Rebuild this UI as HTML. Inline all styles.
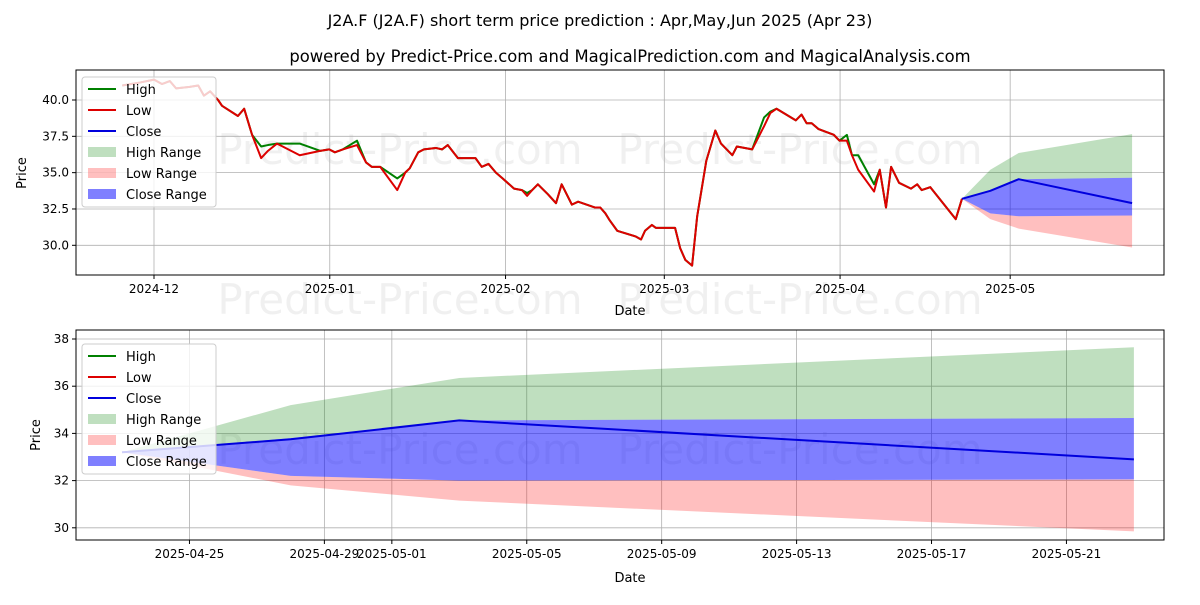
<!DOCTYPE html>
<html><head><meta charset="utf-8"><style>
body{margin:0;background:#fff;font-family:"Liberation Sans","DejaVu Sans",sans-serif}
svg text{font-family:"DejaVu Sans","Liberation Sans",sans-serif}
</style></head><body>
<svg id="c" width="1200" height="600" xmlns="http://www.w3.org/2000/svg"></svg>
<script>
// historical days (offset from 2024-12-01) and low values
const histDays=[-5.6,-2.5,0,1.4,2.8,3.9,6.3,7.8,8.8,9.9,11.3,12,14.8,15.9,17.3,18.9,20.1,21.7,25.7,29.3,30.9,31.9,33.3,35.8,37.4,38.4,39.9,42.9,44.3,45.1,46.6,47.6,49.7,50.8,51.8,53.6,56.7,57.8,59,60.3,61.5,63.5,64.9,65.8,66.7,67.7,69.5,70.9,71.9,73.7,74.8,77.8,78.7,79.6,80.4,81.7,85,85.9,86.6,87.8,88.5,91.9,92.8,93.7,94.9,95.8,97.4,99,100,102,102.8,105.5,107.6,108.7,109.8,113.2,114.2,115.1,116,117.2,119.9,120.9,122.2,123.1,124.2,127,128,129.1,130,131.4,133.5,134.6,135.4,136.9,141.4,142.5,142.5];
const lowVals=[41.0,41.2,41.4,41.1,41.3,40.8,40.9,41.0,40.3,40.6,40.0,39.6,38.9,39.4,37.6,36.0,36.5,37.0,36.2,36.5,36.6,36.4,36.6,36.9,35.7,35.4,35.4,33.8,35.0,35.3,36.4,36.6,36.7,36.6,36.9,36.0,36.0,35.4,35.6,35.0,34.6,33.9,33.8,33.4,33.8,34.2,33.5,32.9,34.2,32.8,33.0,32.6,32.6,32.2,31.7,31.0,30.6,30.4,31.0,31.4,31.2,31.2,29.8,29.0,28.6,32.0,35.8,37.9,37.0,36.2,36.8,36.6,38.2,39.1,39.4,38.6,39.0,38.4,38.4,38.0,37.6,37.2,37.2,36.2,35.2,33.7,35.2,32.6,35.4,34.3,33.9,34.2,33.8,34.0,31.8,33.2,33.2];
const highVals=[41.0,41.2,41.4,41.1,41.3,40.8,40.9,41.0,40.3,40.6,40.0,39.6,38.9,39.4,37.6,36.8,36.9,37.0,37.0,36.5,36.6,36.4,36.6,37.2,35.7,35.4,35.4,34.6,35.0,35.3,36.4,36.6,36.7,36.6,36.9,36.0,36.0,35.4,35.6,35.0,34.6,33.9,33.8,33.6,33.8,34.2,33.5,32.9,34.2,32.8,33.0,32.6,32.6,32.2,31.7,31.0,30.6,30.4,31.0,31.4,31.2,31.2,29.8,29.0,28.6,32.0,35.8,37.9,37.0,36.2,36.8,36.6,38.8,39.2,39.4,38.6,39.0,38.4,38.4,38.0,37.6,37.2,37.6,36.2,36.2,34.2,35.2,32.6,35.4,34.3,33.9,34.2,33.8,34.0,31.8,33.2,33.2];
// forecast (days offset from 2025-04-23)
const fcDays=[0,5,10,30];
const fcClose=[33.2,33.75,34.55,32.9];
const fcHighTop=[33.2,35.2,36.35,37.65];
const fcCloseTop=[33.2,33.8,34.55,34.65];
const fcCloseBot=[33.2,32.2,32.0,32.05];
const fcLowBot=[33.2,31.8,31.15,29.85];
const topYTicks=[30.0,32.5,35.0,37.5,40.0];
const topXLabels=["2024-12","2025-01","2025-02","2025-03","2025-04","2025-05"];
const topXDays=[0,31,62,90,121,151];
const botYTicks=[30,32,34,36,38];
const botXLabels=["2025-04-25","2025-04-29","2025-05-01","2025-05-05","2025-05-09","2025-05-13","2025-05-17","2025-05-21"];
const botXDays=[2,6,8,12,16,20,24,28];

const svg=document.getElementById('c');const NS="http://www.w3.org/2000/svg";
function mk(t,a,p){const e=document.createElementNS(NS,t);for(const k in a)e.setAttribute(k,a[k]);(p||svg).appendChild(e);return e;}
function txt(s,x,y,size,anchor,name,rot){const e=mk('text',{x:x,y:y,'font-size':size,'text-anchor':anchor||'middle',fill:'#000'});if(rot)e.setAttribute('transform','rotate(-90 '+x+' '+y+')');e.textContent=s;

return e;}
function wm(x,y,p){const w=mk('text',{x:x,y:y,'font-size':42,'text-anchor':'middle',fill:'#000','fill-opacity':0.06},p);w.textContent='Predict-Price.com';
 
 }
const FC0=142.5; // 2025-04-23 in top-chart day units
function panel(P){
 const g=mk('g',{});
 
 
 P.wy.forEach(y=>{wm(400,y,g);wm(800,y,g);});
 P.yt.forEach(v=>{const y=P.Y(v);mk('line',{x1:P.x0,x2:P.x1,y1:y,y2:y,stroke:'#b0b0b0','stroke-width':0.8},g);mk('line',{x1:P.x0-4,x2:P.x0,y1:y,y2:y,stroke:'#000'},g);txt(P.yf(v),P.x0-7,y+4,12,'end','y-tick-label');});
 P.xd.forEach((d,i)=>{const x=P.X(d);mk('line',{x1:x,x2:x,y1:P.y0,y2:P.y1,stroke:'#b0b0b0','stroke-width':0.8},g);mk('line',{x1:x,x2:x,y1:P.y1,y2:P.y1+4,stroke:'#000'},g);txt(P.xl[i],x,P.y1+18,12,'middle','x-tick-label');});
 const poly=(top,bot,col,op,name)=>{let pts=fcDays.map((d,i)=>P.X(P.fd(d))+','+P.Y(top[i]));for(let i=fcDays.length-1;i>=0;i--)pts.push(P.X(P.fd(fcDays[i]))+','+P.Y(bot[i]));const e=mk('polygon',{points:pts.join(' '),fill:col,'fill-opacity':op},g);};
 poly(fcHighTop,fcCloseTop,'#008000',0.25,'high-range');
 poly(fcCloseBot,fcLowBot,'#ff0000',0.25,'low-range');
 poly(fcCloseTop,fcCloseBot,'#0000ff',0.5,'close-range');
 const line=(ds,vs,col,name)=>{const e=mk('polyline',{points:ds.map((d,i)=>P.X(d)+','+P.Y(vs[i])).join(' '),fill:'none',stroke:col,'stroke-width':2,'stroke-linejoin':'round'},g);};
 if(P.hist){line(histDays,highVals,'#008000','high-line');line(histDays,lowVals,'#dd0000','low-line');}
 line(fcDays.map(P.fd),fcClose,'#0000dd','close-line');
 mk('rect',{x:P.x0,y:P.y0,width:P.x1-P.x0,height:P.y1-P.y0,fill:'none',stroke:'#000','stroke-width':1},g);
 const lg=mk('g',{},g);
 const lx=P.x0+6,ly=P.y0+P.lo;
 mk('rect',{x:lx,y:ly,width:134,height:130,fill:'#fff','fill-opacity':0.8,stroke:'#ccc',rx:3},lg);
 const items=[['High','#008000','l'],['Low','#dd0000','l'],['Close','#0000dd','l'],['High Range','rgba(0,128,0,0.25)','r'],['Low Range','rgba(255,0,0,0.25)','r'],['Close Range','rgba(0,0,255,0.5)','r']];
 items.forEach((it,i)=>{const y=ly+12+i*21;if(it[2]=='l')mk('line',{x1:lx+6,x2:lx+34,y1:y,y2:y,stroke:it[1],'stroke-width':2},lg);else mk('rect',{x:lx+6,y:y-5,width:28,height:10,fill:it[1]},lg);const t=txt(it[0],lx+44,y+5,13,'start','legend-entry');lg.appendChild(t);});
}
panel({name:'top-panel',x0:76,x1:1164,y0:70,y1:275,X:d=>154+d*5.67,Y:v=>100+(40-v)*14.53,yt:topYTicks,yf:v=>v.toFixed(1),xd:topXDays,xl:topXLabels,fd:d=>FC0+d,hist:true,wy:[164,314],lo:7});
panel({name:'bottom-panel',x0:76,x1:1164,y0:330,y1:540,X:d=>122+d*33.73,Y:v=>339+(38-v)*23.6,yt:botYTicks,yf:v=>String(v),xd:botXDays,xl:botXLabels,fd:d=>d,hist:false,wy:[464],lo:14});
txt('J2A.F (J2A.F) short term price prediction : Apr,May,Jun 2025 (Apr 23)',600,26,16,'middle','chart-title');
txt('powered by Predict-Price.com and MagicalPrediction.com and MagicalAnalysis.com',630,62,16.4,'middle','chart-subtitle');
txt('Date',630,315,13,'middle','x-axis-title');
txt('Date',630,582,13,'middle','x-axis-title');
txt('Price',26,173,13,'middle','y-axis-title',true);
txt('Price',40,435,13,'middle','y-axis-title',true);
</script>
</body></html>
